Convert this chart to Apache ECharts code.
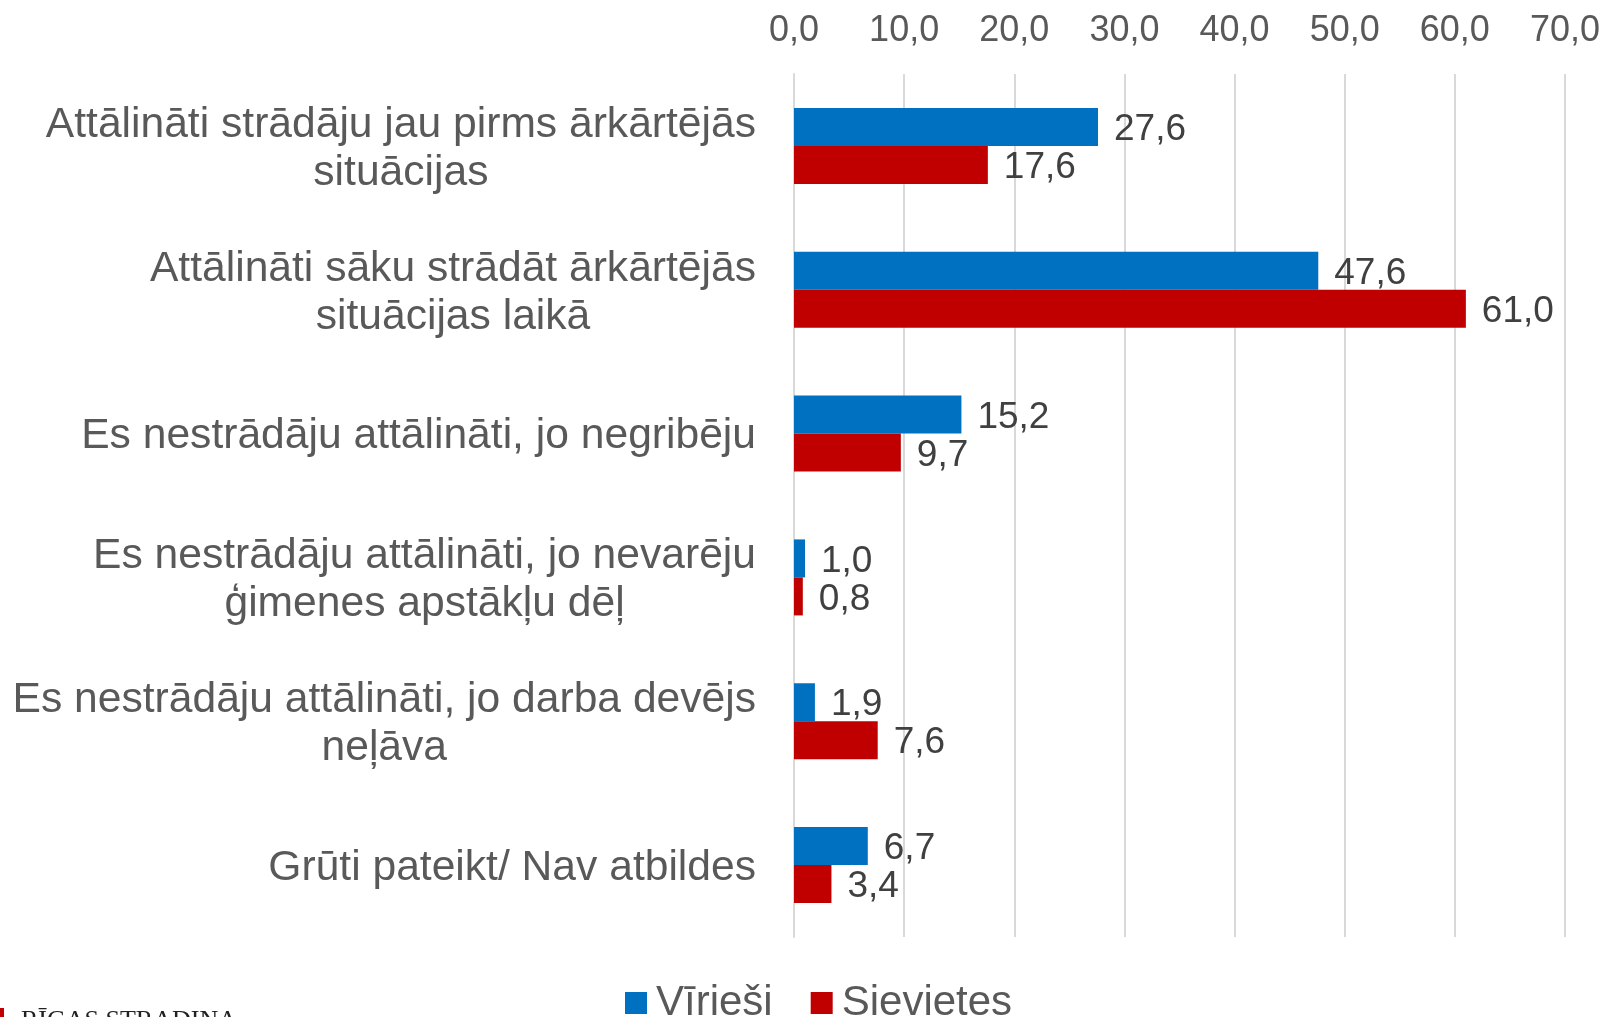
<!DOCTYPE html>
<html>
<head>
<meta charset="utf-8">
<script src="https://cdn.jsdelivr.net/npm/echarts@6/dist/echarts.min.js"></script>
<style>
    html, body { margin: 0; padding: 0; background: #fff; }
    #chart { width: 1606px; height: 1017px; }
</style>
</head>
<body>
<div id="chart"></div>
<script>
const categories = [
    'Attālināti strādāju jau pirms ārkārtējās\nsituācijas',
    'Attālināti sāku strādāt ārkārtējās\nsituācijas laikā',
    'Es nestrādāju attālināti, jo negribēju',
    'Es nestrādāju attālināti, jo nevarēju\nģimenes apstākļu dēļ',
    'Es nestrādāju attālināti, jo darba devējs\nneļāva',
    'Grūti pateikt/ Nav atbildes'
];
const men = [27.6, 47.6, 15.2, 1.0, 1.9, 6.7];
const women = [17.6, 61.0, 9.7, 0.8, 7.6, 3.4];
const seriesNames = ['Vīrieši', 'Sievietes'];

const font = "'Liberation Sans', Arial, sans-serif";
const fmt = v => v.toFixed(1).replace('.', ',');

const chart = echarts.init(document.getElementById('chart'));

const labelStyle = {
    show: true,
    position: 'right',
    distance: 16,
    offset: [0, 3],
    fontFamily: font,
    fontSize: 37,
    color: '#404040',
    formatter: p => fmt(p.value)
};

chart.setOption({
    animation: false,
    textStyle: { fontFamily: font },
    grid: { left: 794, right: 41, top: 74, bottom: 80 },
    xAxis: {
        type: 'value',
        position: 'top',
        min: 0,
        max: 70,
        interval: 10,
        axisLine: { show: false },
        axisTick: { show: false },
        axisLabel: {
            margin: 25,
            fontFamily: font,
            fontSize: 36,
            color: '#595959',
            formatter: v => fmt(v)
        },
        splitLine: { lineStyle: { color: '#d9d9d9', width: 2 } }
    },
    yAxis: {
        type: 'category',
        inverse: true,
        data: categories,
        axisLine: { show: true, lineStyle: { color: '#d9d9d9', width: 2 } },
        axisTick: { show: false },
        axisLabel: {
            margin: 38,
            align: 'right',
            padding: [6, 0, 0, 0],
            fontFamily: font,
            fontSize: 42.6,
            lineHeight: 48,
            color: '#595959',
            // centre the wrapped lines against each other, block stays right-aligned
            formatter: v => v.split('\n').map(l => '{c|' + l + '}').join('\n'),
            rich: {
                c: { align: 'center', fontFamily: font, fontSize: 42.6, lineHeight: 48, color: '#595959' }
            }
        }
    },
    legend: {
        left: 620,
        top: 977,
        icon: 'rect',
        itemWidth: 22,
        itemHeight: 22,
        itemGap: 38,
        textStyle: { fontFamily: font, fontSize: 42, color: '#595959', padding: [0, 0, 0, 4] },
        data: seriesNames
    },
    series: [
        {
            name: seriesNames[0],
            type: 'bar',
            data: men,
            barWidth: 38,
            barGap: '0%',
            itemStyle: { color: '#0070c0' },
            label: labelStyle
        },
        {
            name: seriesNames[1],
            type: 'bar',
            data: women,
            barWidth: 38,
            barGap: '0%',
            itemStyle: { color: '#c00000' },
            label: labelStyle
        }
    ],
    graphic: [
        { type: 'rect', left: 0, top: 1008, shape: { width: 4, height: 12 }, style: { fill: '#c00000' } },
        { type: 'text', left: 21, top: 1008, style: { text: 'RĪGAS STRADIŅA', font: "26px 'Liberation Serif', serif", fill: '#222' } }
    ]
});
</script>
</body>
</html>
